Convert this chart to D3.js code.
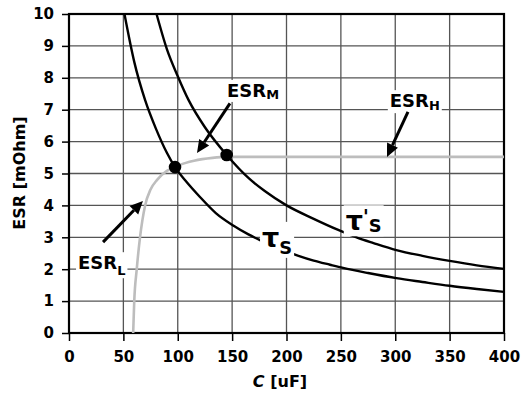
<!DOCTYPE html>
<html>
<head>
<meta charset="utf-8">
<script src="https://cdn.jsdelivr.net/npm/d3@7"></script>
<style>
  html, body { margin: 0; padding: 0; background: #fff; }
  svg { display: block; }
  text { font-family: "DejaVu Sans", sans-serif; font-weight: bold; fill: #000; }
</style>
</head>
<body>
<svg id="chart" width="522" height="398"></svg>
<script>
// Capacitance axis (uF) and ESR axis (mOhm)
const xTicks = [0, 50, 100, 150, 200, 250, 300, 350, 400];
const yTicks = [0, 1, 2, 3, 4, 5, 6, 7, 8, 9, 10];

// Time-constant curve tau_s
const tauC   = [51, 60, 70, 80, 90, 97.5, 107, 120, 135, 151, 165, 177, 190, 211, 225, 240, 252, 275, 301, 325, 350, 375, 400];
const tauESR = [10, 8.5, 7.3, 6.4, 5.65, 5.2, 4.78, 4.28, 3.76, 3.37, 3.09, 2.89, 2.69, 2.42, 2.27, 2.14, 2.04, 1.88, 1.72, 1.6, 1.48, 1.38, 1.29];

// Time-constant curve tau'_s
const tau2C   = [80.5, 90, 100, 110, 125, 145, 166, 180, 200, 225, 247, 265, 280, 301, 325, 350, 375, 400];
const tau2ESR = [10, 8.9, 8.05, 7.3, 6.45, 5.58, 4.83, 4.45, 4.0, 3.58, 3.24, 2.99, 2.82, 2.6, 2.42, 2.26, 2.12, 2.01];

// Capacitor ESR versus capacitance
const esrC   = [59, 60, 62.3, 65.3, 70, 75, 81, 90, 97.5, 102, 115, 132, 145, 170, 400];
const esrVal = [0, 1, 2, 3, 4, 4.5, 4.8, 5.08, 5.2, 5.27, 5.4, 5.49, 5.52, 5.52, 5.52];

// Intersection points
const dotC   = [97.5, 145];
const dotESR = [5.2, 5.58];

const svg = d3.select("#chart");
const m = { left: 69, right: 18, top: 14, bottom: 65 };
const W = 522, H = 398;

const x = d3.scaleLinear().domain([0, 400]).range([m.left, W - m.right]);
const y = d3.scaleLinear().domain([0, 10]).range([H - m.bottom, m.top]);

// grid
const grid = svg.append("g").attr("stroke", "#555").attr("stroke-width", 1.3);
grid.selectAll("line.v").data(xTicks.slice(1, -1)).join("line")
  .attr("x1", d => x(d)).attr("x2", d => x(d)).attr("y1", y(0)).attr("y2", y(10));
grid.selectAll("line.h").data(yTicks.slice(1, -1)).join("line")
  .attr("y1", d => y(d)).attr("y2", d => y(d)).attr("x1", x(0)).attr("x2", x(400));

// axes
const xAxis = svg.append("g").attr("transform", `translate(0,${y(0)})`)
  .call(d3.axisBottom(x).tickValues(xTicks).tickSize(8).tickPadding(10).tickFormat(d3.format("d")));
const yAxis = svg.append("g").attr("transform", `translate(${x(0)},0)`)
  .call(d3.axisLeft(y).tickValues(yTicks).tickSize(7).tickPadding(8).tickFormat(d3.format("d")));
[xAxis, yAxis].forEach(g => {
  g.select(".domain").remove();
  g.selectAll(".tick line").attr("stroke", "#000").attr("stroke-width", 1.5);
  g.selectAll(".tick text").style("font-family", "DejaVu Sans, sans-serif")
    .style("font-weight", "bold").style("font-size", "15px").attr("fill", "#000");
});

// frame
svg.append("rect")
  .attr("x", x(0)).attr("y", y(10))
  .attr("width", x(400) - x(0)).attr("height", y(0) - y(10))
  .attr("fill", "none").attr("stroke", "#000").attr("stroke-width", 2.2);

const line = d3.line().x(d => x(d[0])).y(d => y(d[1])).curve(d3.curveMonotoneX);

svg.append("path").datum(d3.zip(esrC, esrVal)).attr("d", line)
  .attr("fill", "none").attr("stroke", "#bdbdbd").attr("stroke-width", 2.6);
svg.append("path").datum(d3.zip(tauC, tauESR)).attr("d", line)
  .attr("fill", "none").attr("stroke", "#000").attr("stroke-width", 2.4);
svg.append("path").datum(d3.zip(tau2C, tau2ESR)).attr("d", line)
  .attr("fill", "none").attr("stroke", "#000").attr("stroke-width", 2.4);

// labels with white boxes behind them
function label(cx, cy, parts, size, subRatio) {
  const g = svg.append("g");
  const bg = g.append("rect").attr("fill", "#fff");
  const t = g.append("text").attr("x", x(cx)).attr("y", y(cy)).style("font-size", size + "px");
  parts.forEach(p => {
    const s = t.append("tspan").text(p.t);
    if (p.sub) s.style("font-size", (size * subRatio) + "px").attr("dy", p.dy);
    if (p.up) s.attr("dy", p.up).style("font-size", (size * 0.7) + "px");
  });
  const b = t.node().getBBox();
  bg.attr("x", b.x - 2).attr("y", b.y).attr("width", b.width + 4).attr("height", b.height);
  return g;
}

function arrow(c1, e1, c2, e2) {
  const x1 = x(c1), y1 = y(e1), x2 = x(c2), y2 = y(e2);
  const a = Math.atan2(y2 - y1, x2 - x1);
  const L = 13, Wd = 6;
  const bx = x2 - L * Math.cos(a), by = y2 - L * Math.sin(a);
  svg.append("line").attr("x1", x1).attr("y1", y1).attr("x2", bx).attr("y2", by)
    .attr("stroke", "#000").attr("stroke-width", 3);
  svg.append("path")
    .attr("d", `M${x2},${y2}L${bx + Wd * Math.sin(a)},${by - Wd * Math.cos(a)}L${bx - Wd * Math.sin(a)},${by + Wd * Math.cos(a)}Z`)
    .attr("fill", "#000");
}

label(145.3, 7.4, [{ t: "ESR" }, { t: "M", sub: true, dy: 2 }], 18, 0.72);
label(295, 7.08, [{ t: "ESR" }, { t: "H", sub: true, dy: 3 }], 18, 0.72);
label(8.3, 2.0, [{ t: "ESR" }, { t: "L", sub: true, dy: 6 }], 18, 0.72);
label(177.5, 2.7, [{ t: "τ" }, { t: "S", sub: true, dy: 7 }], 27, 0.66);
label(254.5, 3.22, [{ t: "τ" }, { t: "'", up: -7 }, { t: "S", sub: true, dy: 9 }], 27, 0.66);

arrow(148, 7.2, 117.7, 5.64);
arrow(311.7, 6.93, 292.4, 5.52);
arrow(31.3, 2.85, 68, 4.14);

// intersection dots
svg.selectAll("circle.dot").data(d3.zip(dotC, dotESR)).join("circle")
  .attr("cx", d => x(d[0])).attr("cy", d => y(d[1])).attr("r", 6.3).attr("fill", "#000");

// axis titles
svg.append("text").attr("transform", `translate(25,173) rotate(-90)`)
  .attr("text-anchor", "middle").style("font-size", "16px").text("ESR [mOhm]");
const xt = svg.append("text").attr("x", 280).attr("y", 387)
  .attr("text-anchor", "middle").style("font-size", "16px");
xt.append("tspan").style("font-style", "italic").text("C");
xt.append("tspan").text(" [uF]");
</script>
</body>
</html>
